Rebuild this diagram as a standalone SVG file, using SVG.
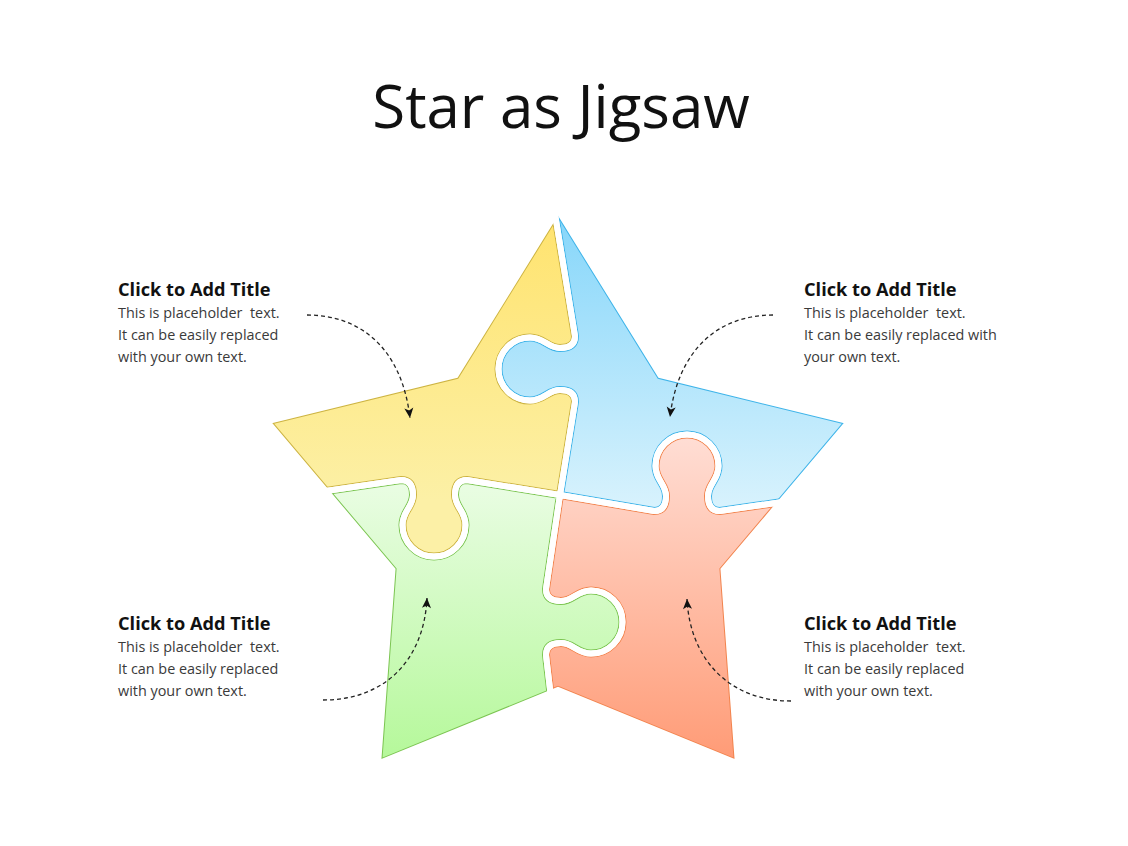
<svg xmlns="http://www.w3.org/2000/svg" width="1128" height="846" viewBox="0 0 1128 846">
<style>
.edge{fill:none;stroke-width:8;stroke-linejoin:miter;stroke-miterlimit:20}
.gap{fill:none;stroke:#ffffff;stroke-width:6;stroke-linejoin:miter;stroke-miterlimit:20}
.ttl{font-family:"Open Sans","Liberation Sans",sans-serif;font-size:60px;fill:#111111}
.h{font-family:"Open Sans","Liberation Sans",sans-serif;font-weight:700;font-size:18.2px;fill:#111111}
.b{font-family:"Open Sans","Liberation Sans",sans-serif;font-size:14.4px;fill:#3a3a3a}
.arr{fill:none;stroke:#222222;stroke-width:1.3;stroke-dasharray:4 3;marker-end:url(#ah)}
</style>
<defs>
<linearGradient id="gY" gradientUnits="userSpaceOnUse" x1="0" y1="215" x2="0" y2="500"><stop offset="0" stop-color="#FFE36E"/><stop offset="1" stop-color="#FCF0A6"/></linearGradient>
<linearGradient id="gB" gradientUnits="userSpaceOnUse" x1="0" y1="215" x2="0" y2="515"><stop offset="0" stop-color="#86D6FA"/><stop offset="1" stop-color="#DAF3FD"/></linearGradient>
<linearGradient id="gG" gradientUnits="userSpaceOnUse" x1="0" y1="480" x2="0" y2="760"><stop offset="0" stop-color="#EAFDE4"/><stop offset="1" stop-color="#B5F89A"/></linearGradient>
<linearGradient id="gR" gradientUnits="userSpaceOnUse" x1="0" y1="435" x2="0" y2="760"><stop offset="0" stop-color="#FFDED5"/><stop offset="1" stop-color="#FF9B76"/></linearGradient>
<path id="star" d="M558,210 L660.3,375.2 L849,421.4 L723.5,569.8 L737.9,763.6 L558,690 L378.1,763.6 L392.5,569.8 L267,421.4 L455.7,375.2 Z"/>
<path id="qY" d="M536,100 L556.4,222.5 L575,336 C575,345 569,348 560,348 C548,348 544,337.5 530,337.5 A31.5,31.5 0 0 0 498.5,369 A31.5,31.5 0 0 0 530,400.5 C544,400.5 548,390 560,390 C569,390 575,393 575,402 L560,495 L467,480 C458,480 455,486 455,495 C455,507 465.5,511 465.5,525 A31.5,31.5 0 0 1 434,556.5 A31.5,31.5 0 0 1 402.5,525 C402.5,511 413,507 413,495 C413,486 410,480 401,480 L331,490.2 L200,509 L100,509 L100,100 Z"/>
<path id="qB" d="M536,100 L1000,100 L1000,478 L950,478 L774,503.2 L720,511 C711,511 708,505 708,496 C708,484 718.5,480 718.5,466 A31.5,31.5 0 0 0 687,434.5 A31.5,31.5 0 0 0 655.5,466 C655.5,480 666,484 666,496 C666,505 663,511 654,511 L560,495 L575,402 C575,393 569,390 560,390 C548,390 544,400.5 530,400.5 A31.5,31.5 0 0 1 498.5,369 A31.5,31.5 0 0 1 530,337.5 C544,337.5 548,348 560,348 C569,348 575,345 575,336 L556.4,222.5 Z"/>
<path id="qR" d="M560,495 L654,511 C663,511 666,505 666,496 C666,484 655.5,480 655.5,466 A31.5,31.5 0 0 1 687,434.5 A31.5,31.5 0 0 1 718.5,466 C718.5,480 708,484 708,496 C708,505 711,511 720,511 L774,503.2 L950,478 L1000,478 L1000,800 L563,800 L550,689.2 L546,655 C546,646 552,643 561,643 C573,643 577,653.5 591,653.5 A31.5,31.5 0 0 0 622.5,622 A31.5,31.5 0 0 0 591,590.5 C577,590.5 573,601 561,601 C552,601 546,598 546,589 Z"/>
<path id="qG" d="M100,509 L200,509 L331,490.2 L401,480 C410,480 413,486 413,495 C413,507 402.5,511 402.5,525 A31.5,31.5 0 0 0 434,556.5 A31.5,31.5 0 0 0 465.5,525 C465.5,511 455,507 455,495 C455,486 458,480 467,480 L560,495 L546,589 C546,598 552,601 561,601 C573,601 577,590.5 591,590.5 A31.5,31.5 0 0 1 622.5,622 A31.5,31.5 0 0 1 591,653.5 C577,653.5 573,643 561,643 C552,643 546,646 546,655 L550,689.2 L563,800 L100,800 Z"/>
<clipPath id="cS"><use href="#star"/></clipPath>
<clipPath id="cY"><use href="#qY"/></clipPath>
<clipPath id="cB"><use href="#qB"/></clipPath>
<clipPath id="cR"><use href="#qR"/></clipPath>
<clipPath id="cG"><use href="#qG"/></clipPath>
<marker id="ah" markerUnits="userSpaceOnUse" markerWidth="12" markerHeight="10" refX="10" refY="4.5" orient="auto" overflow="visible"><path d="M0,0 L10,4.5 L0,9 L2.5,4.5 Z" fill="#111111"/></marker>
</defs>
<rect width="1128" height="846" fill="#ffffff"/>
<text class="ttl" x="561" y="128" text-anchor="middle">Star as Jigsaw</text>
<g id="star-pieces" clip-path="url(#cS)">
<g id="piece-yellow" clip-path="url(#cY)">
<rect x="100" y="100" width="900" height="700" fill="url(#gY)"/>
<use href="#qY" class="edge" stroke="#CDB443"/>
<use href="#star" class="edge" stroke="#CDB443"/>
</g>
<g id="piece-blue" clip-path="url(#cB)">
<rect x="100" y="100" width="900" height="700" fill="url(#gB)"/>
<use href="#qB" class="edge" stroke="#3FB4E9"/>
<use href="#star" class="edge" stroke="#3FB4E9"/>
</g>
<g id="piece-red" clip-path="url(#cR)">
<rect x="100" y="100" width="900" height="700" fill="url(#gR)"/>
<use href="#qR" class="edge" stroke="#F2844E"/>
<use href="#star" class="edge" stroke="#F2844E"/>
</g>
<g id="piece-green" clip-path="url(#cG)">
<rect x="100" y="100" width="900" height="700" fill="url(#gG)"/>
<use href="#qG" class="edge" stroke="#7CC552"/>
<use href="#star" class="edge" stroke="#7CC552"/>
</g>
</g>
<g id="piece-gaps">
<g clip-path="url(#cS)">
<use href="#qY" class="gap"/>
<use href="#qB" class="gap"/>
<use href="#qR" class="gap"/>
<use href="#qG" class="gap"/>
</g>
<use href="#star" class="gap"/>
</g>
<g id="connectors">
<path class="arr" d="M307,315 C362,315 402,350 410,418"/>
<path class="arr" d="M773,315 C718,315 678,350 670,417"/>
<path class="arr" d="M323,700 C385,700 424,660 427,598"/>
<path class="arr" d="M791,701 C730,701 690,660 687,599"/>
</g>
<g id="text-top-left">
<text class="h" x="118" y="296">Click to Add Title</text>
<text class="b" x="118" y="318" xml:space="preserve">This is placeholder  text.</text>
<text class="b" x="118" y="340">It can be easily replaced</text>
<text class="b" x="118" y="362">with your own text.</text>
</g>
<g id="text-top-right">
<text class="h" x="804" y="296">Click to Add Title</text>
<text class="b" x="804" y="318" xml:space="preserve">This is placeholder  text.</text>
<text class="b" x="804" y="340">It can be easily replaced with</text>
<text class="b" x="804" y="362">your own text.</text>
</g>
<g id="text-bottom-left">
<text class="h" x="118" y="630">Click to Add Title</text>
<text class="b" x="118" y="652" xml:space="preserve">This is placeholder  text.</text>
<text class="b" x="118" y="674">It can be easily replaced</text>
<text class="b" x="118" y="696">with your own text.</text>
</g>
<g id="text-bottom-right">
<text class="h" x="804" y="630">Click to Add Title</text>
<text class="b" x="804" y="652" xml:space="preserve">This is placeholder  text.</text>
<text class="b" x="804" y="674">It can be easily replaced</text>
<text class="b" x="804" y="696">with your own text.</text>
</g>
</svg>
